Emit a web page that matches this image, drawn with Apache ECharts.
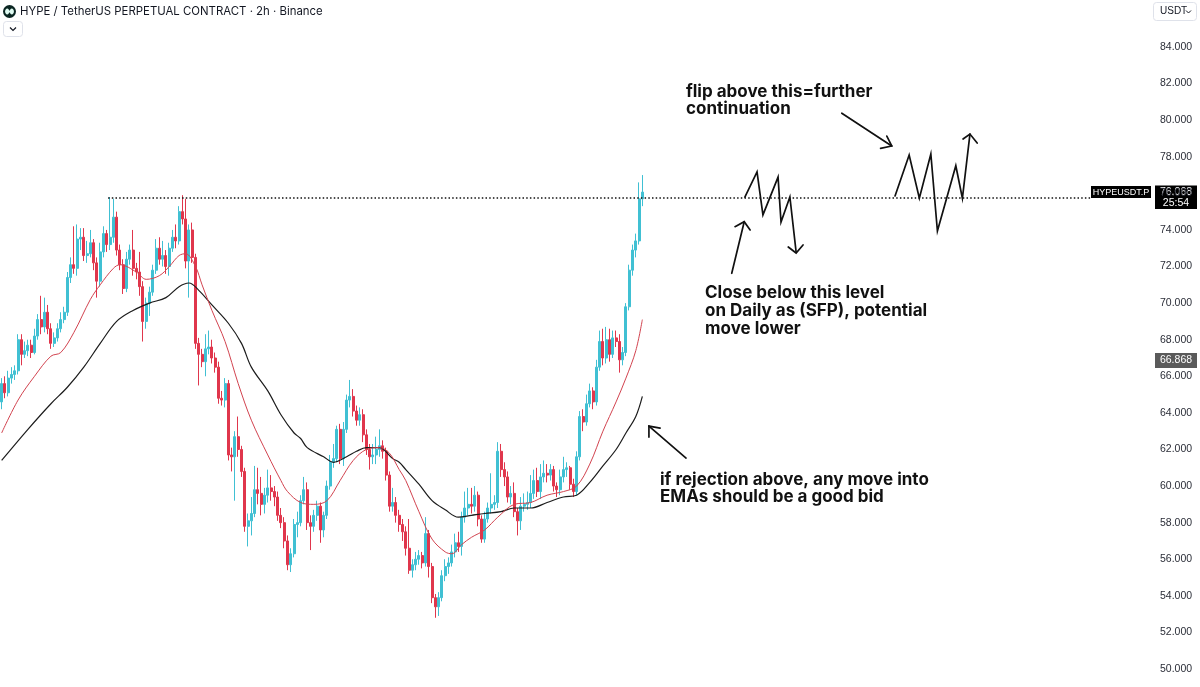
<!DOCTYPE html>
<html>
<head>
<meta charset="utf-8">
<title>HYPE / TetherUS PERPETUAL CONTRACT · 2h · Binance</title>
<script src="https://cdn.jsdelivr.net/npm/echarts@6/dist/echarts.min.js"></script>
<style>
html,body{margin:0;padding:0;background:#ffffff;overflow:hidden}
#chart{width:1200px;height:687px}
</style>
</head>
<body>
<div id="chart"></div>
<script>
// ---------------- data ----------------
const chartTitle = 'HYPE / TetherUS PERPETUAL CONTRACT · 2h · Binance';
const symbolTag = 'HYPEUSDT.P';
const currencyTag = 'USDT';
const lastPrice = 76.068;
const lastPriceText = '76.068';
const countdownText = '25:54';
const markPrice = 66.868;
const markPriceText = '66.868';
const yMin = 50, yMax = 84, yStep = 2;
const slotCount = 350;

const open = [
64.6,65.6,65.1,65.9,66.1,66.3,68.0,67.2,67.4,67.7,
67.3,68.2,69.1,68.7,69.5,68.6,67.8,68.1,68.6,69.1,
69.5,71.4,72.1,71.9,73.5,73.6,72.6,72.7,73.3,72.2,
71.2,72.8,73.8,73.2,73.6,74.7,72.9,72.1,70.8,72.4,
72.9,71.9,71.7,70.9,69.0,70.0,70.6,71.8,73.0,72.4,
72.6,72.0,73.0,73.6,73.4,75.0,74.6,72.3,74.0,72.5,
67.8,67.2,66.8,67.5,67.6,67.0,66.5,64.8,64.7,65.6,
61.7,61.6,62.7,62.0,60.8,57.8,58.1,58.5,59.8,59.6,
59.0,59.5,59.9,59.7,59.4,58.4,58.0,57.0,55.7,56.3,
57.9,58.0,59.2,59.8,58.0,57.8,58.4,58.9,57.6,58.4,
60.0,61.3,61.5,63.1,61.5,63.1,64.7,64.9,64.1,63.6,
63.9,62.8,62.0,61.6,61.7,62.0,62.2,61.9,60.6,58.9,
59.1,58.4,57.9,57.5,56.6,55.4,55.7,56.0,56.2,55.8,
57.4,55.6,53.9,53.4,53.9,55.1,55.6,55.8,56.4,56.9,
56.7,58.3,58.8,59.0,58.9,59.5,58.2,57.1,58.2,58.8,
59.0,59.1,61.9,60.9,60.5,59.4,59.6,58.6,58.1,58.9,
59.0,59.1,59.6,60.3,59.7,60.5,60.7,60.6,60.9,60.0,
59.8,60.5,60.9,61.0,60.1,59.7,61.6,63.8,63.5,64.5,
65.2,64.6,66.5,67.9,67.0,68.0,67.2,68.1,67.9,66.9,
67.3,69.8,71.8,72.9,73.4,75.7
];
const close = [
65.6,65.1,65.9,66.1,66.3,68.0,67.2,67.4,67.7,67.3,
68.2,69.1,68.7,69.5,68.6,67.8,68.1,68.6,69.1,69.5,
71.4,72.1,71.9,73.5,73.6,72.6,72.7,73.3,72.2,71.2,
72.8,73.8,73.2,73.6,74.7,72.9,72.1,70.8,72.4,72.9,
71.9,71.7,70.9,69.0,70.0,70.6,71.8,73.0,72.4,72.6,
72.0,73.0,73.6,73.4,75.0,74.6,72.3,74.0,72.5,67.8,
67.2,66.8,67.5,67.6,67.0,66.5,64.8,64.7,65.6,61.7,
61.6,62.7,62.0,60.8,57.8,58.1,58.5,59.8,59.6,59.0,
59.5,59.9,59.7,59.4,58.4,58.0,57.0,55.7,56.3,57.9,
58.0,59.2,59.8,58.0,57.8,58.4,58.9,57.6,58.4,60.0,
61.3,61.5,63.1,61.5,63.1,64.7,64.9,64.1,63.6,63.9,
62.8,62.0,61.6,61.7,62.0,62.2,61.9,60.6,58.9,59.1,
58.4,57.9,57.5,56.6,55.4,55.7,56.0,56.2,55.8,57.4,
55.6,53.9,53.4,53.9,55.1,55.6,55.8,56.4,56.9,56.7,
58.3,58.8,59.0,58.9,59.5,58.2,57.1,58.2,58.8,59.0,
59.1,61.9,60.9,60.5,59.4,59.6,58.6,58.1,58.9,59.0,
59.1,59.6,60.3,59.7,60.5,60.7,60.6,60.9,60.0,59.8,
60.5,60.9,61.0,60.1,59.7,61.6,63.8,63.5,64.5,65.2,
64.6,66.5,67.9,67.0,68.0,67.2,68.1,67.9,66.9,67.3,
69.8,71.8,72.9,73.4,75.7,76.068
];
const low = [
64.2,64.8,64.9,65.6,65.8,66.1,66.6,67.0,67.1,67.0,
67.2,68.0,68.3,68.4,68.3,67.5,67.6,67.9,68.4,68.9,
69.3,71.1,71.6,71.5,72.9,72.3,72.2,72.5,71.8,70.3,
70.9,72.5,72.8,72.9,73.3,72.6,71.8,70.5,70.6,72.1,
71.5,71.3,70.4,67.9,68.6,69.3,70.4,71.6,72.1,72.0,
71.6,71.5,72.8,73.0,73.2,74.3,71.9,70.3,72.2,67.5,
65.5,66.5,66.0,67.2,66.7,66.2,64.5,64.4,64.3,61.4,
60.8,59.2,61.6,60.5,57.5,56.7,57.3,58.3,59.0,58.4,
58.5,59.1,59.2,58.9,58.1,57.7,56.6,55.4,55.3,56.1,
57.2,57.8,59.0,57.6,56.5,57.5,58.1,56.9,57.2,58.2,
59.8,61.0,61.3,61.2,61.1,62.9,64.3,63.8,63.3,63.3,
62.4,61.7,60.9,61.2,61.2,61.6,61.5,60.3,58.6,58.6,
58.0,57.5,57.0,56.2,55.2,55.0,55.4,55.7,55.5,55.6,
55.0,53.6,52.8,52.9,53.7,54.8,55.2,55.6,56.1,56.4,
56.2,58.0,58.4,58.5,58.6,57.8,56.9,56.9,58.0,58.5,
58.7,58.8,60.5,60.0,59.1,59.0,58.3,57.3,57.6,58.6,
58.7,58.8,59.3,59.4,59.3,60.2,60.2,60.3,59.7,59.4,
59.5,60.2,60.5,59.8,59.4,59.5,61.4,63.0,63.3,64.3,
64.2,64.4,66.3,66.6,66.7,66.8,67.0,67.6,66.2,66.6,
67.1,69.6,71.5,72.5,73.2,75.3
];
const high = [
65.9,66.0,66.3,66.5,66.6,68.3,68.3,67.9,68.0,68.0,
68.6,69.4,70.4,70.3,69.9,68.9,68.4,68.9,69.5,69.8,
71.7,72.5,74.2,74.3,74.1,74.1,73.4,74.0,73.5,72.5,
73.3,74.2,74.0,75.8,75.7,75.0,73.2,72.4,72.8,73.2,
74.0,72.2,72.8,71.2,70.3,70.9,72.1,73.5,73.6,73.4,
72.9,73.3,74.0,74.3,75.3,75.9,75.7,74.3,74.4,72.7,
68.1,67.5,68.3,68.5,68.0,67.3,66.8,65.2,65.9,65.8,
62.1,63.0,63.8,62.2,61.0,58.5,59.4,61.1,61.0,60.5,
59.9,60.9,60.6,60.0,59.7,58.8,58.3,57.3,56.6,58.2,
58.6,59.5,60.5,60.2,58.4,58.7,59.2,59.1,58.6,60.3,
61.7,62.3,63.3,63.4,63.5,65.0,65.8,65.3,64.4,64.3,
64.2,63.1,62.3,62.3,62.7,63.1,62.5,62.1,60.8,59.9,
59.4,58.7,58.2,57.8,58.2,56.0,56.4,56.5,56.4,58.3,
57.6,55.8,54.1,54.2,55.4,56.0,56.1,56.8,57.4,57.5,
58.6,59.7,59.9,59.9,60.0,59.7,58.4,58.6,59.1,60.7,
59.5,62.4,62.3,61.3,60.8,60.0,60.2,58.8,59.4,59.6,
59.7,60.6,60.9,61.0,61.2,61.4,61.2,61.2,61.1,60.2,
60.9,61.6,61.3,61.1,60.4,61.9,64.1,64.2,65.0,65.6,
65.4,66.9,68.5,68.6,68.7,68.6,68.5,68.5,68.3,67.6,
70.0,72.1,73.2,73.8,76.6,77.0
];

// EMA lines (bar index, price)
const emaFastIdx = [0,5,10,15,18,22,27,30,34,36,41,44,48,51,54,56,59,61,64,68,72,76,81,85,87,91,95,99,103,107,111,115,118,121,123,127,131,135,137,140,143,147,151,156,161,166,171,175,179,183,187,190,193,195];
const emaFastVal = [62.9,64.7,66.0,67.1,67.3,68.4,70.2,71.0,71.9,72.1,71.7,71.3,71.5,72.0,72.6,72.7,72.0,71.0,69.6,67.9,65.6,63.6,61.7,60.3,59.7,59.1,59.0,59.2,60.3,61.4,62.0,62.1,61.8,60.9,60.3,58.6,57.1,56.4,56.3,56.8,57.2,57.6,58.3,59.0,59.1,59.5,59.7,60.0,61.2,63.0,64.6,65.9,67.4,69.1];
const emaSlowIdx = [0,8,15,20,25,30,35,40,45,50,54,57,60,64,69,73,76,81,85,89,91,93,98,101,105,108,111,115,119,121,123,127,131,135,139,143,147,152,156,161,166,171,175,179,183,187,190,193,195];
const emaSlowVal = [61.4,63.1,64.5,65.4,66.5,67.8,69.0,69.6,70.0,70.3,70.9,71.1,70.7,69.9,68.9,67.8,66.5,65.2,63.9,62.9,62.6,62.1,61.6,61.3,61.6,61.9,62.1,62.1,61.5,61.3,60.9,60.1,59.2,58.7,58.3,58.4,58.5,58.6,58.8,58.8,59.1,59.4,59.5,60.2,61.1,62.0,62.9,63.8,64.9];

// horizontal level (price, from bar, to bar)
const levelPrice = 75.75;
const levelFrom = 32.4;
const levelTo = 331.3;

// hand-drawn sketches, points as [bar index, price]
const sketchZigA     = [[226.2,75.80],[229.9,77.17],[231.7,74.82],[236.3,76.89],[237.2,74.43],[239.9,75.80],[241.8,72.79]];
const sketchZigAHead = [[239.4,73.07],[241.8,72.74],[243.9,73.18]];
const sketchUp       = [[222.2,71.63],[226.0,74.45]];
const sketchUpHead   = [[223.2,74.18],[226.0,74.45],[227.8,74.00]];
const sketchZigB     = [[271.9,75.86],[276.2,78.10],[279.3,75.73],[282.8,78.15],[284.8,73.94],[290.4,77.51],[292.4,75.73],[294.7,79.24]];
const sketchZigBHead = [[292.6,78.97],[294.7,79.24],[296.9,78.75]];
const sketchFlip     = [[255.7,80.38],[270.9,78.59]];
const sketchFlipHead = [[267.5,78.46],[270.9,78.59],[269.4,79.13]];
const sketchEma      = [[208.3,61.53],[197.0,63.28]];
const sketchEmaHead  = [[197.0,62.68],[197.0,63.28],[200.4,63.17]];

const noteFlip = 'flip above this=further\ncontinuation';
const noteClose = 'Close below this level\non Daily as (SFP), potential\nmove lower';
const noteBid = 'if rejection above, any move into\nEMAs should be a good bid';

// ---------------- chart ----------------
const UP = '#40c0d3';
const DOWN = '#e0364c';
const slots = Array.from({length: slotCount}, (_, i) => String(i));
const candles = open.map((o, i) => [o, close[i], low[i], high[i]]);
const pairs = (xs, ys) => xs.map((x, i) => [x, ys[i]]);

const sketches = [sketchZigA, sketchZigAHead, sketchUp, sketchUpHead, sketchZigB, sketchZigBHead,
                  sketchFlip, sketchFlipHead, sketchEma, sketchEmaHead];

const chart = echarts.init(document.getElementById('chart'), null, {renderer: 'canvas'});

const series = [
  {
    type: 'candlestick', xAxisIndex: 0, yAxisIndex: 0, data: candles, barWidth: 2.6,
    itemStyle: {color: UP, color0: DOWN, borderColor: UP, borderColor0: DOWN, borderWidth: 1},
    silent: true
  },
  {
    type: 'line', xAxisIndex: 1, yAxisIndex: 0, data: pairs(emaSlowIdx, emaSlowVal),
    smooth: 0.35, symbol: 'none', silent: true,
    lineStyle: {color: '#1c1c1c', width: 1.2}
  },
  {
    type: 'line', xAxisIndex: 1, yAxisIndex: 0, data: pairs(emaFastIdx, emaFastVal),
    smooth: 0.35, symbol: 'none', silent: true,
    lineStyle: {color: '#d2434f', width: 1}
  },
  {
    type: 'line', xAxisIndex: 1, yAxisIndex: 0,
    data: [[levelFrom, levelPrice], [levelTo, levelPrice]],
    symbol: 'none', silent: true,
    lineStyle: {color: '#111', width: 1.5, type: [1.5, 2.2]}
  }
];
sketches.forEach(pts => series.push({
  type: 'line', xAxisIndex: 1, yAxisIndex: 0, data: pts, symbol: 'none', silent: true,
  lineStyle: {color: '#111', width: 1.7, join: 'miter', miterLimit: 10, cap: 'round'}
}));

chart.setOption({
  animation: false,
  backgroundColor: '#ffffff',
  grid: {left: 0, right: 50, top: 47, bottom: 18, containLabel: false, outerBoundsMode: 'none'},
  xAxis: [
    {type: 'category', data: slots, show: false, boundaryGap: true},
    {type: 'value', min: -0.5, max: slotCount - 0.5, show: false}
  ],
  yAxis: [{
    type: 'value', position: 'right', min: yMin, max: yMax, interval: yStep, scale: true,
    axisLine: {show: false}, axisTick: {show: false}, splitLine: {show: false},
    axisLabel: {
      margin: 10, color: '#2b2e38', fontSize: 10.5, fontFamily: '"Liberation Sans", Arial, sans-serif',
      formatter: v => v.toFixed(3)
    }
  }],
  series: series
});

const yLast = chart.convertToPixel({yAxisIndex: 0}, lastPrice);
const yMark = chart.convertToPixel({yAxisIndex: 0}, markPrice);
const axisX = chart.convertToPixel({xAxisIndex: 1}, slotCount - 0.5);

const noteFont = 'bold 17px Inter, "Liberation Sans", Arial, sans-serif';
const smallFont = '"Liberation Sans", Arial, sans-serif';

chart.setOption({
  graphic: [
    // header
    {type: 'circle', shape: {cx: 9.5, cy: 11.5, r: 6.5}, style: {fill: '#0b2622'}},
    {type: 'ellipse', shape: {cx: 7.2, cy: 11.5, rx: 2.1, ry: 3}, style: {fill: '#dffbf2'}},
    {type: 'ellipse', shape: {cx: 11.8, cy: 11.5, rx: 2.1, ry: 3}, style: {fill: '#dffbf2'}},
    {type: 'rect', shape: {x: 7.5, y: 10.6, width: 4, height: 1.8}, style: {fill: '#dffbf2'}},
    {type: 'text', x: 20, y: 11.5, style: {text: chartTitle, fill: '#131722', font: '11.4px Inter, "Liberation Sans", Arial, sans-serif', verticalAlign: 'middle'}},
    {type: 'rect', shape: {x: 3.5, y: 21.5, width: 19, height: 15, r: 3}, style: {fill: '#fff', stroke: '#dfe2ea', lineWidth: 1}},
    {type: 'polyline', shape: {points: [[10, 27.5], [13, 30.5], [16, 27.5]]}, style: {stroke: '#131722', lineWidth: 1.2, fill: null}},
    // currency box
    {type: 'rect', shape: {x: 1153.5, y: 2.5, width: 43, height: 18, r: 3}, style: {fill: '#fff', stroke: '#dfe2ea', lineWidth: 1}},
    {type: 'text', x: 1160, y: 11.5, style: {text: currencyTag, fill: '#131722', font: '10px ' + smallFont, verticalAlign: 'middle'}},
    {type: 'polyline', shape: {points: [[1186, 10.5], [1188.5, 13], [1191, 10.5]]}, style: {stroke: '#131722', lineWidth: 1, fill: null}},
    // symbol tag and last price
    {type: 'rect', shape: {x: axisX - 59, y: yLast - 6, width: 60, height: 12}, style: {fill: '#000'}},
    {type: 'text', x: axisX - 29, y: yLast, style: {text: symbolTag, fill: '#fff', font: '9px ' + smallFont, align: 'center', verticalAlign: 'middle'}},
    {type: 'rect', shape: {x: axisX + 5, y: yLast - 6.5, width: 42, height: 23.5}, style: {fill: '#000'}},
    {type: 'text', x: axisX + 26, y: yLast, style: {text: lastPriceText, fill: '#fff', font: '10.5px ' + smallFont, align: 'center', verticalAlign: 'middle'}},
    {type: 'text', x: axisX + 26, y: yLast + 11, style: {text: countdownText, fill: '#fff', font: '10.5px ' + smallFont, align: 'center', verticalAlign: 'middle'}},
    {type: 'rect', shape: {x: axisX + 5, y: yMark - 7.5, width: 42, height: 15}, style: {fill: '#5a5a5a'}},
    {type: 'text', x: axisX + 26, y: yMark, style: {text: markPriceText, fill: '#fff', font: '10.5px ' + smallFont, align: 'center', verticalAlign: 'middle'}},
    // notes
    {type: 'text', x: 686, y: 83, style: {text: noteFlip, fill: '#111', font: noteFont, lineHeight: 17.5, verticalAlign: 'top'}},
    {type: 'text', x: 705, y: 284, style: {text: noteClose, fill: '#111', font: noteFont, lineHeight: 18, verticalAlign: 'top'}},
    {type: 'text', x: 660, y: 471, style: {text: noteBid, fill: '#111', font: noteFont, lineHeight: 17.5, verticalAlign: 'top'}}
  ]
});
</script>
</body>
</html>
